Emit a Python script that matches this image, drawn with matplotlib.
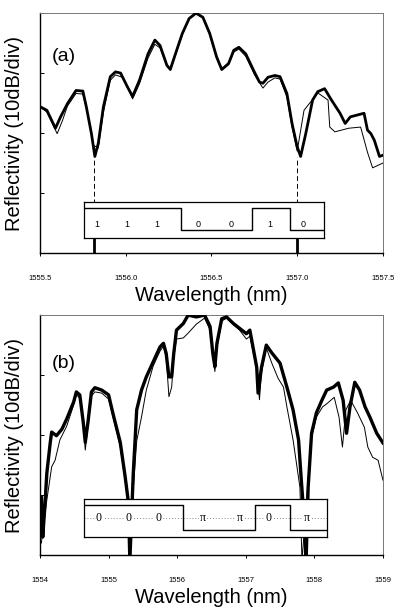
import numpy as np
import matplotlib
matplotlib.use('Agg')
import matplotlib.pyplot as plt

plt.rcParams['font.family'] = ['Liberation Sans', 'DejaVu Sans']

# ---- panel (a) data: wavelength (nm), reflectivity (divisions of 10 dB) ----
a_wl_thick = [1555.50, 1555.54, 1555.59, 1555.62, 1555.66, 1555.71, 1555.75, 1555.77, 1555.80, 1555.82,
              1555.84, 1555.87, 1555.91, 1555.94, 1555.97, 1556.01, 1556.04, 1556.08, 1556.13, 1556.17,
              1556.20, 1556.24, 1556.26, 1556.29, 1556.33, 1556.37, 1556.41, 1556.45, 1556.49, 1556.53,
              1556.56, 1556.60, 1556.63, 1556.66, 1556.70, 1556.75, 1556.78, 1556.80, 1556.83, 1556.87,
              1556.90, 1556.94, 1556.97, 1557.00, 1557.02, 1557.05, 1557.09, 1557.12, 1557.16, 1557.20,
              1557.25, 1557.28, 1557.31, 1557.35, 1557.39, 1557.41, 1557.43, 1557.45, 1557.48, 1557.50]
a_db_thick = [2.44, 2.38, 2.08, 2.27, 2.49, 2.71, 2.70, 2.44, 1.99, 1.61,
              1.83, 2.44, 2.94, 3.02, 3.00, 2.77, 2.61, 2.88, 3.32, 3.55,
              3.46, 3.13, 3.06, 3.32, 3.66, 3.91, 4.00, 3.93, 3.66, 3.27,
              3.06, 3.16, 3.38, 3.43, 3.32, 3.02, 2.85, 2.83, 2.93, 2.96,
              2.94, 2.66, 2.16, 1.77, 1.61, 1.99, 2.55, 2.69, 2.74, 2.55,
              2.33, 2.16, 2.27, 2.30, 2.33, 2.05, 1.99, 1.88, 1.61, 1.63]
a_wl_thin = [1555.50, 1555.54, 1555.60, 1555.63, 1555.66, 1555.71, 1555.75, 1555.78, 1555.81, 1555.84,
             1555.87, 1555.91, 1555.94, 1555.98, 1556.02, 1556.04, 1556.08, 1556.13, 1556.17, 1556.20,
             1556.24, 1556.26, 1556.29, 1556.33, 1556.37, 1556.41, 1556.45, 1556.49, 1556.53, 1556.56,
             1556.60, 1556.63, 1556.66, 1556.70, 1556.75, 1556.80, 1556.83, 1556.87, 1556.90, 1556.94,
             1556.97, 1557.00, 1557.04, 1557.12, 1557.18, 1557.19, 1557.22, 1557.30, 1557.37, 1557.41,
             1557.44, 1557.50]
a_db_thin = [2.44, 2.35, 1.99, 2.20, 2.45, 2.66, 2.65, 2.30, 1.80, 1.75,
             2.35, 2.88, 2.97, 2.93, 2.70, 2.57, 2.82, 3.25, 3.48, 3.42,
             3.12, 3.05, 3.30, 3.64, 3.90, 3.99, 3.92, 3.64, 3.25, 3.05,
             3.14, 3.35, 3.40, 3.28, 2.98, 2.75, 2.85, 2.92, 2.90, 2.60,
             2.10, 1.70, 2.38, 2.67, 2.55, 2.10, 2.02, 2.08, 2.10, 1.68,
             1.42, 1.50]
a_dips = [1555.815, 1557.00]
a_bits = ['1', '1', '1', '0', '0', '1', '0']

# ---- panel (b) data ----
b_wl_thick = [1554.00, 1554.02, 1554.04, 1554.07, 1554.10, 1554.15, 1554.17, 1554.24, 1554.32, 1554.39,
              1554.49, 1554.53, 1554.58, 1554.63, 1554.66, 1554.70, 1554.75, 1554.80, 1554.90, 1555.00,
              1555.07, 1555.17, 1555.24, 1555.29, 1555.31, 1555.36, 1555.41, 1555.48, 1555.55, 1555.65,
              1555.75, 1555.80, 1555.84, 1555.88, 1555.92, 1555.95, 1555.99, 1556.09, 1556.16, 1556.28,
              1556.40, 1556.48, 1556.52, 1556.55, 1556.58, 1556.65, 1556.72, 1556.82, 1556.91, 1557.01,
              1557.06, 1557.16, 1557.18, 1557.23, 1557.30, 1557.38, 1557.50, 1557.60, 1557.69, 1557.77,
              1557.81, 1557.86, 1557.88, 1557.91, 1557.96, 1558.03, 1558.11, 1558.18, 1558.28, 1558.35,
              1558.42, 1558.47, 1558.52, 1558.59, 1558.66, 1558.74, 1558.81, 1558.91, 1559.00]
b_db_thick = [0.60, 0.97, 0.30, 0.80, 1.37, 1.88, 2.05, 1.99, 2.10, 2.27,
              2.55, 2.72, 2.67, 2.22, 1.88, 2.22, 2.72, 2.79, 2.75, 2.67,
              2.33, 1.88, 1.32, 0.87, -0.10, 1.36, 2.42, 2.75, 2.97, 3.22,
              3.47, 3.53, 3.36, 2.97, 2.97, 3.36, 3.75, 3.86, 4.00, 3.97,
              4.00, 3.81, 3.36, 3.14, 3.53, 3.94, 3.97, 3.86, 3.78, 3.69,
              3.75, 3.13, 2.70, 3.13, 3.50, 3.37, 3.20, 2.80, 2.42, 1.92,
              1.25, 0.47, -0.10, 1.13, 2.03, 2.37, 2.58, 2.75, 2.80, 2.87,
              2.58, 2.03, 2.47, 2.88, 2.75, 2.47, 2.30, 2.03, 1.87]
b_wl_thin = [1554.02, 1554.10, 1554.17, 1554.22, 1554.29, 1554.39, 1554.49, 1554.53, 1554.58, 1554.63,
             1554.66, 1554.70, 1554.75, 1554.80, 1554.90, 1555.00, 1555.07, 1555.17, 1555.24, 1555.29,
             1555.31, 1555.36, 1555.41, 1555.48, 1555.55, 1555.65, 1555.75, 1555.80, 1555.84, 1555.88,
             1555.92, 1555.95, 1555.99, 1556.09, 1556.16, 1556.28, 1556.40, 1556.48, 1556.52, 1556.55,
             1556.58, 1556.65, 1556.72, 1556.82, 1556.91, 1557.01, 1557.06, 1557.16, 1557.20, 1557.23,
             1557.30, 1557.38, 1557.47, 1557.55, 1557.60, 1557.69, 1557.79, 1557.82, 1557.88, 1557.95,
             1558.03, 1558.12, 1558.19, 1558.29, 1558.36, 1558.41, 1558.46, 1558.53, 1558.63, 1558.73,
             1558.78, 1558.85, 1558.93, 1559.00]
b_db_thin = [0.20, 0.92, 1.47, 1.58, 1.92, 2.15, 2.50, 2.67, 2.62, 2.20,
             1.75, 2.15, 2.65, 2.72, 2.70, 2.60, 2.28, 1.80, 1.25, 0.80,
             0.10, 1.10, 1.90, 2.30, 2.75, 3.15, 3.40, 3.48, 3.30, 2.64,
             2.80, 3.30, 3.60, 3.62, 3.70, 3.85, 3.95, 3.75, 3.30, 3.06,
             3.45, 3.90, 3.95, 3.84, 3.75, 3.60, 3.65, 3.10, 2.59, 3.05,
             3.45, 3.20, 2.95, 2.80, 2.47, 1.92, 1.13, -0.10, 0.80, 1.90,
             2.30, 2.47, 2.53, 2.63, 2.30, 1.80, 2.42, 2.58, 2.37, 2.13,
             1.80, 1.63, 1.58, 1.25]
b_bits = ['0', '0', '0', 'π', 'π', '0', 'π']


def draw_code(ax, bounds, edges, levels, bits, bit_x, bit_y, serif, midline):
    ins = ax.inset_axes(bounds)
    ins.set_xlim(0, 1)
    ins.set_ylim(0, 1)
    ins.set_xticks([])
    ins.set_yticks([])
    ins.set_facecolor('white')
    ins.set_zorder(5)
    for s in ins.spines.values():
        s.set_linewidth(0.9)
    xs, ys = [], []
    for i, lv in enumerate(levels):
        xs += [edges[i], edges[i + 1]]
        ys += [lv, lv]
    ins.plot(xs, ys, color='black', lw=1.0, zorder=4)
    if midline:
        ins.axhline(0.5, color='#888888', lw=0.7, ls=(0, (1, 2)), zorder=1)
    fam = ['Liberation Serif', 'DejaVu Serif'] if serif else ['Liberation Sans', 'DejaVu Sans']
    for b, x in zip(bits, bit_x):
        t = ins.text(x, bit_y, b, ha='center', va='center', fontsize=8.5 if serif else 6.5,
                     family=fam, zorder=3)
        if midline:
            t.set_bbox(dict(fc='white', ec='none', pad=1.0))


fig = plt.figure(figsize=(4.02, 6.12), dpi=100)
ax1 = fig.add_axes([0.0995, 0.5866, 0.853, 0.392])
ax2 = fig.add_axes([0.0995, 0.0931, 0.853, 0.392])

# panel (a)
ax1.plot(a_wl_thin, a_db_thin, color='black', lw=0.7, zorder=2)
ax1.plot(a_wl_thick, a_db_thick, color='black', lw=2.0, zorder=3)
ax1.vlines(a_dips, 0.3, 1.6, colors='black', lw=0.7, linestyles=(0, (5, 3)), zorder=2)
ax1.vlines(a_dips, 0, 0.4, colors='black', lw=2.0, zorder=2)
ax1.set_xlim(1555.5, 1557.5)
ax1.set_xticks(np.arange(1555.5, 1557.51, 0.5))
ax1.set_xticklabels(['%.1f' % v for v in np.arange(1555.5, 1557.51, 0.5)])
draw_code(ax1, [0.128, 0.0625, 0.70, 0.15], [0, 0.404, 0.70, 0.858, 1.0],
          [0.82, 0.23, 0.82, 0.23], a_bits,
          [0.054, 0.179, 0.304, 0.475, 0.613, 0.775, 0.913], 0.37, False, False)
ax1.text(0.035, 0.80, '(a)', transform=ax1.transAxes, fontsize=14)

# panel (b)
ax2.plot(b_wl_thin, b_db_thin, color='black', lw=0.7, zorder=2)
ax2.plot(b_wl_thick, b_db_thick, color='black', lw=2.4, zorder=3)
ax2.set_xlim(1554, 1559)
ax2.set_xticks(np.arange(1554, 1559.1, 1))
ax2.set_xticklabels(['%d' % v for v in np.arange(1554, 1559.1, 1)])
draw_code(ax2, [0.128, 0.075, 0.709, 0.158], [0, 0.407, 0.704, 0.848, 1.0],
          [0.84, 0.18, 0.84, 0.18], b_bits,
          [0.062, 0.185, 0.305, 0.49, 0.642, 0.761, 0.918], 0.5, True, True)
ax2.text(0.035, 0.78, '(b)', transform=ax2.transAxes, fontsize=14)

for ax in (ax1, ax2):
    ax.set_ylim(0, 4)
    ax.set_yticks([0, 1, 2, 3, 4])
    ax.set_yticklabels([])
    ax.tick_params(axis='y', direction='in', length=3, width=0.7)
    ax.tick_params(axis='x', direction='out', length=2.5, width=0.7, labelsize=5.5, pad=13)
    ax.set_xlabel('Wavelength (nm)', fontsize=14.5, labelpad=3)
    ax.set_ylabel('Reflectivity (10dB/div)', fontsize=14.5, labelpad=8)
    for side in ('top', 'right'):
        ax.spines[side].set_color('#777777')
        ax.spines[side].set_linewidth(0.7)
    for side in ('left', 'bottom'):
        ax.spines[side].set_linewidth(1.0)

fig.savefig('out.png', dpi=100)
